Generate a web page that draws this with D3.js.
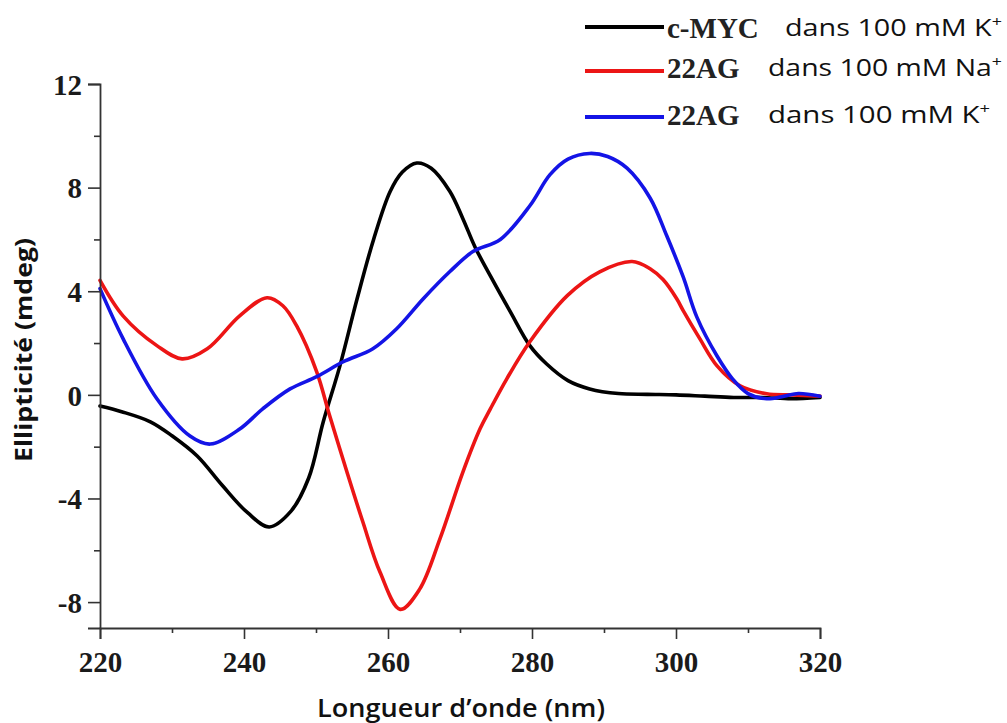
<!DOCTYPE html>
<html><head><meta charset="utf-8">
<script src="https://cdn.jsdelivr.net/npm/d3@7/dist/d3.min.js"></script>
<style>body{margin:0;background:#fff}svg{display:block}
.tk text{font-family:'Liberation Serif','Times New Roman',serif !important;font-weight:bold !important;font-size:29px !important;}
</style>
</head><body>
<svg id="c" width="1007" height="723"></svg>
<script>
const xTicks = [220, 240, 260, 280, 300, 320];
const xMinor = [230, 250, 270, 290, 310];
const yTicks = [-8, -4, 0, 4, 8, 12];
const yMinor = [-6, -2, 2, 6, 10];

const cmycNm  = [220,223,227,230,233.5,237,240.5,243.5,246.5,249,251,253.3,255.7,258,260.3,262,264,266,268.6,270.4,272.1,274.2,277,279.7,282,285,288,292,296,300,304,308,312,316,320];
const cmycVal = [-0.43,-0.65,-1.04,-1.58,-2.36,-3.5,-4.55,-5.1,-4.5,-3.2,-1.05,1.1,3.7,6.0,7.85,8.6,8.95,8.75,7.85,6.8,5.7,4.6,3.2,1.9,1.2,0.55,0.23,0.05,0.02,0.0,-0.05,-0.1,-0.1,-0.15,-0.1];

const naNm  = [220,223.2,227.9,231.4,234.9,239.4,243.2,245.4,247.3,250.1,251.9,254.3,256.5,258.9,261.7,264.4,267.2,270.4,272.8,274.2,276.5,279.7,284.9,289.4,293.9,296.4,298.2,300.1,301,303.3,305.7,308.9,312.6,316,320];
const naVal = [4.42,3.05,1.9,1.39,1.78,3.05,3.75,3.44,2.67,0.89,-0.81,-2.98,-4.9,-6.85,-8.28,-7.5,-5.57,-2.98,-1.3,-0.55,0.62,2.05,3.83,4.75,5.15,4.87,4.45,3.71,3.25,2.17,1.12,0.35,0.04,0.0,-0.05];

const kNm  = [220,223.2,227.9,232.5,235.3,239.4,242.6,246.4,250.1,253.8,257.9,261.2,264.9,268.6,271.8,275.6,279.7,282.5,285,288,290.5,293.2,296.4,298.7,301,302.9,305.7,307.9,310,312.6,315,317,320];
const kVal = [4.1,2.17,-0.15,-1.59,-1.9,-1.32,-0.54,0.23,0.7,1.28,1.78,2.55,3.71,4.76,5.53,6.0,7.3,8.5,9.1,9.32,9.2,8.75,7.6,6.15,4.55,3.0,1.5,0.6,0.05,-0.15,-0.05,0.05,-0.05];

const seriesNames = ["c-MYC", "22AG", "22AG"];
const seriesSuffix = ["dans 100 mM K", "dans 100 mM Na", "dans 100 mM K"];
const seriesColors = ["#000000", "#ec1515", "#1414e6"];

const svg = d3.select("#c");
const x = d3.scaleLinear().domain([220, 320]).range([100, 820]);
const y = d3.scaleLinear().domain([-9, 12]).range([628, 84]);

const series = [
  {nm: cmycNm, v: cmycVal},
  {nm: naNm, v: naVal},
  {nm: kNm, v: kVal}
];

const line = d3.line().curve(d3.curveCatmullRom.alpha(0.5))
  .x(d => x(d[0])).y(d => y(d[1]));

[0,1,2].forEach(i => {
  const s = series[i];
  svg.append("path")
    .datum(s.nm.map((n, j) => [n, s.v[j]]))
    .attr("d", line)
    .attr("fill", "none")
    .attr("stroke", seriesColors[i])
    .attr("stroke-width", 3.6)
    .attr("stroke-linejoin", "round")
    .attr("stroke-linecap", "round");
});

// axes
const tickFont = "Liberation Serif, Times New Roman, serif";
const fmt = d => (d < 0 ? "-" + Math.abs(d) : String(d));
const gx = svg.append("g").attr("class", "tk").attr("transform", `translate(0,${y(-9)})`)
  .call(d3.axisBottom(x).tickValues(xTicks).tickSize(11).tickFormat(fmt));
const gxm = svg.append("g").attr("transform", `translate(0,${y(-9)})`)
  .call(d3.axisBottom(x).tickValues(xMinor).tickSize(5).tickFormat(""));
const gy = svg.append("g").attr("class", "tk").attr("transform", `translate(${x(220)},0)`)
  .call(d3.axisLeft(y).tickValues(yTicks).tickSize(12).tickFormat(fmt));
const gym = svg.append("g").attr("transform", `translate(${x(220)},0)`)
  .call(d3.axisLeft(y).tickValues(yMinor).tickSize(6).tickFormat(""));

gxm.select(".domain").remove();
gym.select(".domain").remove();
[gx, gxm, gy, gym].forEach(g => {
  g.attr("font-family", tickFont).attr("font-size", 29).attr("font-weight", "bold");
  g.selectAll(".domain").attr("stroke", "#333").attr("stroke-width", 1.8);
  g.selectAll(".tick line").attr("stroke", "#333").attr("stroke-width", 1.6);
  g.selectAll(".tick text").attr("fill", "#1a1a1a");
});
gx.selectAll(".tick text").attr("y", 44).attr("dy", null);
gy.selectAll(".tick text").attr("x", -18).attr("dy", "0.35em");

// axis titles
const sans = "'Open Sans','Noto Sans',sans-serif";
svg.append("text")
  .attr("transform", `translate(32,350) rotate(-90)`)
  .attr("text-anchor", "middle")
  .style("font-family", sans).style("font-weight", "bold").style("font-size", "23px")
  .attr("fill", "#111")
  .attr("textLength", 224).attr("lengthAdjust", "spacingAndGlyphs")
  .text("Ellipticité (mdeg)");
svg.append("text")
  .attr("x", 317).attr("y", 717)
  .style("font-family", sans).style("font-weight", "600").style("font-size", "25px")
  .attr("fill", "#111")
  .attr("textLength", 288).attr("lengthAdjust", "spacingAndGlyphs")
  .text("Longueur d’onde (nm)");

// legend
const legLineY = [27, 71, 117];
const legBase = [38, 78, 125];
const legTextX = [785, 768, 768];
const legTextLen = [217, 234, 222];
const legendG = svg.append("g");
[0,1,2].forEach(i => {
  legendG.append("line").attr("x1", 585).attr("x2", 664)
    .attr("y1", legLineY[i]).attr("y2", legLineY[i])
    .attr("stroke", seriesColors[i]).attr("stroke-width", 4);
  legendG.append("text").attr("x", 667).attr("y", legBase[i])
    .style("font-family", "'Liberation Serif','Times New Roman',serif").style("font-weight", "bold").style("font-size", "29px")
    .attr("fill", "#222").text(seriesNames[i]);
  const t = legendG.append("text").attr("x", legTextX[i]).attr("y", legBase[i] - 2)
    .style("font-family", sans).style("font-size", "24px").style("font-weight", "500")
    .attr("fill", "#111")
    .attr("textLength", legTextLen[i]).attr("lengthAdjust", "spacingAndGlyphs");
  t.append("tspan").text(seriesSuffix[i]);
  t.append("tspan").style("font-size", "15px").attr("dy", -9).text("+");
});
</script>
</body></html>
